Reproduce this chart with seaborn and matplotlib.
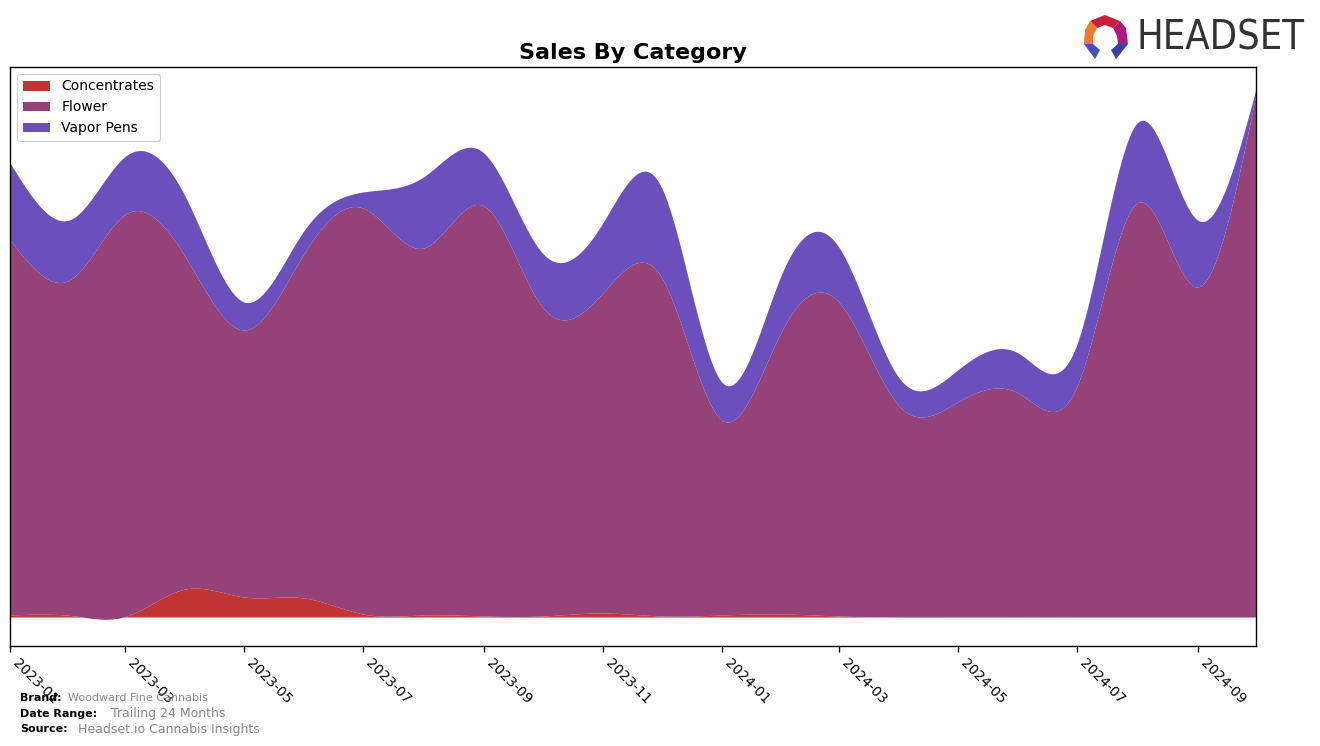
import numpy as np
import pandas as pd
import matplotlib
matplotlib.use("Agg")
import matplotlib.pyplot as plt
import matplotlib.dates as mdates
from matplotlib.patches import Polygon
import seaborn as sns

# ---------------- data (monthly) ----------------
months = ["2023-01", "2023-02", "2023-03", "2023-04", "2023-05", "2023-06",
          "2023-07", "2023-08", "2023-09", "2023-10", "2023-11", "2023-12",
          "2024-01", "2024-02", "2024-03", "2024-04", "2024-05", "2024-06",
          "2024-07", "2024-08", "2024-09", "2024-10"]
categories = ["Concentrates", "Flower", "Vapor Pens"]
concentrates = [2, 1.5, 0.5, 28, 20, 19, 3, 2, 1, 1, 4, 1,
                2, 3, 1, 0, 0, 0, 0, 0, 0, 0]
flower = [375, 336, 402, 332, 267, 345, 406, 367, 410, 309, 320, 339,
          195, 284, 314, 211, 215, 224, 230, 414, 330, 523]
vapor_pens = [77, 60, 58, 60, 28, 23, 16, 71, 53, 54, 70, 90,
              38, 57, 55, 28, 32, 40, 42, 80, 67, 5]
colors = ["#C03434", "#954278", "#6B4FBC"]

brand = "Woodward Fine Cannabis"
date_range = "Trailing 24 Months"
source = "Headset.io Cannabis Insights"


def spline(x, y, xs):
    """Natural cubic spline evaluated on xs."""
    x = np.asarray(x, float)
    y = np.asarray(y, float)
    n = len(x)
    m = n - 1
    A = np.zeros((4 * m, 4 * m))
    b = np.zeros(4 * m)
    r = 0
    for i in range(m):
        h = x[i + 1] - x[i]
        A[r, 4 * i] = 1
        b[r] = y[i]
        r += 1
        A[r, 4 * i:4 * i + 4] = [1, h, h ** 2, h ** 3]
        b[r] = y[i + 1]
        r += 1
    for i in range(m - 1):
        h = x[i + 1] - x[i]
        A[r, 4 * i:4 * i + 4] = [0, 1, 2 * h, 3 * h ** 2]
        A[r, 4 * (i + 1) + 1] = -1
        r += 1
        A[r, 4 * i:4 * i + 4] = [0, 0, 2, 6 * h]
        A[r, 4 * (i + 1) + 2] = -2
        r += 1
    A[r, 2] = 2
    r += 1
    h = x[-1] - x[-2]
    A[r, 4 * (m - 1):4 * m] = [0, 0, 2, 6 * h]
    coef = np.linalg.solve(A, b).reshape(m, 4)
    idx = np.clip(np.searchsorted(x, xs, side="right") - 1, 0, m - 1)
    t = xs - x[idx]
    c = coef[idx]
    return c[:, 0] + c[:, 1] * t + c[:, 2] * t ** 2 + c[:, 3] * t ** 3


sns.set_theme(style="white", context="notebook",
              rc={"text.color": "black", "axes.labelcolor": "black",
                  "xtick.color": "black", "ytick.color": "black",
                  "axes.edgecolor": "black"})
plt.rcParams["font.family"] = ["DejaVu Sans"]

dates = pd.to_datetime([m + "-01" for m in months])
xnum = mdates.date2num(dates)
xs = np.linspace(xnum[0], xnum[-1], 800)
series = [spline(xnum, s, xs) for s in (concentrates, flower, vapor_pens)]

fig = plt.figure(figsize=(13.2, 7.46), dpi=100)
ax = fig.add_axes([10 / 1320, 1 - 646 / 746, 1246 / 1320, 579 / 746])

ax.stackplot(xs, *series, labels=categories, colors=colors, linewidth=0)
ax.set_xlim(xnum[0], xnum[-1])
ax.set_ylim(-29, 550)
ax.set_yticks([])

ax.xaxis.set_major_locator(mdates.MonthLocator(bymonth=[1, 3, 5, 7, 9, 11]))
ax.xaxis.set_major_formatter(mdates.DateFormatter("%Y-%m"))
ax.tick_params(axis="x", which="major", length=4, width=1, color="black",
               labelsize=10, labelcolor="black", bottom=True, pad=3)
for lab in ax.get_xticklabels():
    lab.set_rotation(-45)
    lab.set_ha("left")

for sp in ax.spines.values():
    sp.set_color("black")
    sp.set_linewidth(1)

ax.set_title("Sales By Category", fontsize=16, fontweight="bold", pad=6,
             color="black")
leg = ax.legend(loc="upper left", fontsize=10, frameon=True, framealpha=1,
                edgecolor="#cccccc", borderaxespad=0.5, handlelength=2)
leg.get_frame().set_linewidth(0.8)
for t in leg.get_texts():
    t.set_color("black")

# footer
fig.text(20 / 1320, 1 - 698 / 746, "Brand:", fontsize=8, fontweight="bold",
         va="center", ha="left", color="black")
fig.text(68 / 1320, 1 - 698 / 746, brand, fontsize=8, va="center",
         ha="left", color="#888888")
fig.text(20 / 1320, 1 - 714 / 746, "Date Range:", fontsize=8,
         fontweight="bold", va="center", ha="left", color="black")
fig.text(111 / 1320, 1 - 714 / 746, date_range, fontsize=9, va="center",
         ha="left", color="#888888")
fig.text(20 / 1320, 1 - 729 / 746, "Source:", fontsize=8, fontweight="bold",
         va="center", ha="left", color="black")
fig.text(78 / 1320, 1 - 729 / 746, source, fontsize=9, va="center",
         ha="left", color="#888888")

# logo
def P(pts):
    return [(px / 1320, 1 - py / 746) for px, py in pts]

logo_parts = [
    ([(1090, 21), (1105, 15), (1120, 21), (1113, 28), (1105, 25), (1097, 28)], "#C8203A"),
    ([(1090, 21), (1097, 28), (1093, 36), (1093, 44), (1084, 44), (1085, 30)], "#F07A28"),
    ([(1120, 21), (1126, 28), (1128, 44), (1118, 44), (1117, 36), (1113, 28)], "#B0197A"),
    ([(1084, 44), (1093, 44), (1100, 50), (1095, 59)], "#4A4FC0"),
    ([(1118, 44), (1128, 44), (1116, 59), (1111, 50)], "#3A3FA8"),
]
for pts, c in logo_parts:
    fig.patches.append(Polygon(P(pts), closed=True, facecolor=c,
                               edgecolor="none", transform=fig.transFigure))
fig.text(1136 / 1320, 1 - 38 / 746, "HEADSET", fontsize=28.5,
         family=["DejaVu Sans"], fontstretch="condensed",
         color="#333333", va="center", ha="left")

fig.savefig("out.png", dpi=100)
